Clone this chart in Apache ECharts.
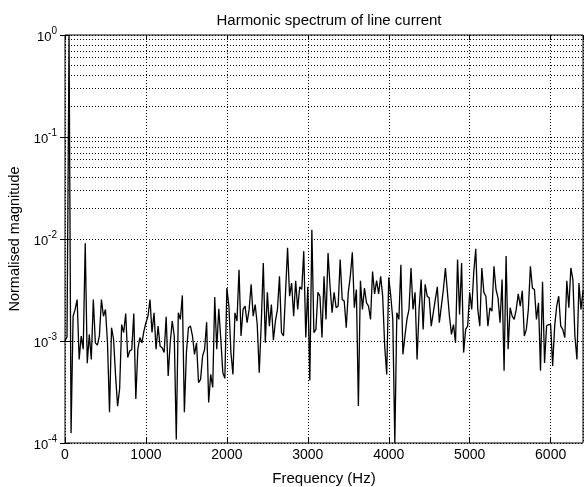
<!DOCTYPE html>
<html>
<head>
<meta charset="utf-8">
<style>
html, body { margin: 0; padding: 0; background: #fff; }
#spectrum { width: 587px; height: 487px; }
</style>
<script src="https://cdn.jsdelivr.net/npm/echarts@6/dist/echarts.min.js"></script>
</head>
<body>
<div id="spectrum"></div>
<script>
// spectrum sampled every 25 Hz, 0 .. 6400 Hz
const FREQ_STEP = 25
const mag0to1000 = [1.0e-3, 1.1e-3, 1.0, 1.25e-4, 1.75e-3, 2.04e-3, 2.55e-3, 6.6e-4, 1.12e-3, 8.3e-4,
  9.1e-3, 6.05e-4, 1.16e-3, 6.6e-4, 2.55e-3, 9.6e-4, 9.1e-4, 1.12e-3, 2.55e-3, 1.75e-3,
  2.04e-3, 9.6e-4, 2.0e-4, 1.35e-3, 1.04e-3, 4.55e-4, 2.3e-4, 3.4e-4, 1.45e-3, 1.21e-3,
  1.86e-3, 6.9e-4, 8.0e-4, 8.2e-4, 1.86e-3, 2.7e-4, 8.3e-4, 1.08e-3, 9.6e-4, 1.25e-3,
  1.51e-3]
const mag1025to2000 = [1.75e-3, 2.55e-3, 1.21e-3, 1.89e-3, 8.3e-4, 1.40e-3, 8.9e-4, 8.6e-4, 7.7e-4, 1.73e-3,
  4.55e-4, 9.6e-4, 1.57e-3, 1.12e-3, 1.08e-4, 1.89e-3, 1.63e-3, 2.8e-3, 2.0e-4, 7.7e-4,
  1.35e-3, 1.40e-3, 1.12e-3, 7.4e-4, 9.6e-4, 3.9e-4, 4.2e-4, 7.1e-4, 8.3e-4, 1.53e-3,
  2.5e-4, 4.7e-4, 3.5e-4, 2.7e-3, 8.3e-4, 2.07e-3, 1.04e-3, 4.9e-4, 4.3e-4, 3.3e-3]
const mag2025to3000 = [2.2e-3, 7.7e-4, 4.7e-4, 1.89e-3, 1.57e-3, 5.0e-3, 1.12e-3, 2.04e-3, 2.2e-3, 1.51e-3,
  2.04e-3, 3.6e-3, 1.75e-3, 2.28e-3, 1.45e-3, 4.9e-4, 1.51e-3, 5.8e-3, 9.6e-4, 3.0e-3,
  1.40e-3, 2.28e-3, 1.02e-3, 1.57e-3, 2.04e-3, 4.3e-3, 1.21e-3, 1.12e-3, 3.0e-3, 8.2e-3,
  2.75e-3, 3.7e-3, 1.75e-3, 3.9e-3, 2.04e-3, 3.4e-3, 3.2e-3, 7.6e-3, 1.08e-3, 3.4e-3]
const mag3025to4000 = [4.1e-4, 1.23e-2, 1.21e-3, 1.30e-3, 3.0e-3, 2.75e-3, 1.08e-3, 4.3e-3, 1.63e-3, 7.3e-3,
  3.4e-3, 1.89e-3, 3.0e-3, 2.12e-3, 2.2e-3, 6.3e-3, 2.55e-3, 2.46e-3, 1.35e-3, 3.0e-3,
  4.3e-3, 7.4e-3, 2.12e-3, 3.2e-3, 2.3e-4, 3.9e-3, 2.04e-3, 3.3e-3, 2.37e-3, 2.2e-3,
  1.63e-3, 4.8e-3, 2.9e-3, 3.9e-3, 2.9e-3, 4.3e-3, 2.75e-3, 8.9e-4, 4.7e-4, 4.2e-3]
const mag4025to5000 = [2.75e-3, 1.63e-3, 1.0e-4, 1.89e-3, 1.63e-3, 5.6e-3, 7.4e-4, 1.12e-3, 1.63e-3, 2.04e-3,
  5.2e-3, 2.04e-3, 3.0e-3, 6.6e-4, 2.04e-3, 4.0e-3, 1.30e-3, 3.6e-3, 2.75e-3, 2.65e-3,
  1.40e-3, 1.89e-3, 2.55e-3, 3.4e-3, 1.51e-3, 2.2e-3, 3.2e-3, 5.2e-3, 3.0e-3, 1.75e-3,
  1.16e-3, 1.45e-3, 9.6e-4, 6.3e-3, 1.82e-3, 5.8e-3, 7.7e-4, 1.30e-3, 1.40e-3, 3.0e-3]
const mag5025to6400 = [2.04e-3, 4.7e-3, 8.0e-3, 2.04e-3, 1.40e-3, 5.2e-3, 3.0e-3, 2.75e-3, 1.40e-3, 2.12e-3,
  1.96e-3, 5.4e-3, 3.2e-3, 2.65e-3, 1.51e-3, 4.0e-3, 5.1e-4, 6.8e-3, 8.3e-4, 2.12e-3,
  1.75e-3, 1.63e-3, 2.04e-3, 2.9e-3, 2.2e-3, 3.1e-3, 1.12e-3, 1.30e-3, 2.04e-3, 5.4e-3,
  3.3e-3, 3.2e-3, 1.63e-3, 2.37e-3, 5.1e-4, 3.8e-3, 6.1e-4, 1.40e-3, 1.45e-3, 1.45e-3,
  5.7e-4, 1.40e-3, 2.2e-3, 2.75e-3, 1.40e-3, 1.30e-3, 1.08e-3, 3.9e-3, 2.12e-3, 5.2e-3,
  4.0e-3, 1.12e-3, 6.6e-4, 3.7e-3, 2.04e-3, 3.1e-3]

const decades = [1e-4, 1e-3, 1e-2, 1e-1]
const minorSteps = [2, 3, 4, 5, 6, 7, 8, 9]

const magnitudes = [].concat(mag0to1000, mag1025to2000, mag2025to3000, mag3025to4000, mag4025to5000, mag5025to6400)
const points = magnitudes.map((v, i) => [i * FREQ_STEP, v])

// dotted lines at 2..9 of every decade, like the reference's log grid
const minorLines = []
for (const d of decades) {
  for (const m of minorSteps) {
    minorLines.push({ yAxis: d * m })
  }
}

const font = "'Liberation Sans', Arial, sans-serif"
const dotted = { color: '#000', width: 1, type: [1, 2] }

const myChart = echarts.init(document.getElementById('spectrum'))
myChart.setOption({
  animation: false,
  backgroundColor: '#fff',
  textStyle: { fontFamily: font },
  title: {
    text: 'Harmonic spectrum of line current',
    left: 324,
    textAlign: 'center',
    top: 8,
    textStyle: { fontSize: 15, fontWeight: 'normal', color: '#000', fontFamily: font }
  },
  grid: {
    left: 65,
    right: 4,
    top: 35,
    bottom: 44,
    show: true,
    borderColor: '#000',
    borderWidth: 1,
    outerBoundsMode: 'none'
  },
  xAxis: [
    {
      type: 'value',
      min: 0,
      max: 6400,
      interval: 1000,
      name: 'Frequency (Hz)',
      nameLocation: 'middle',
      nameGap: 28,
      nameTextStyle: { fontSize: 15, color: '#000', fontFamily: font },
      axisLine: { show: false },
      axisTick: { inside: true, length: 5, lineStyle: { color: '#000' } },
      axisLabel: {
        margin: 5,
        fontSize: 14,
        color: '#000',
        fontFamily: font,
        showMaxLabel: false,
        formatter: v => (v % 1000 === 0 ? String(v) : '')
      },
      splitLine: { show: true, lineStyle: dotted }
    },
    {
      type: 'value',
      position: 'top',
      min: 0,
      max: 6400,
      interval: 1000,
      axisLine: { show: false },
      axisTick: { inside: true, length: 5, lineStyle: { color: '#000' } },
      axisLabel: { show: false },
      splitLine: { show: false }
    }
  ],
  yAxis: [
    {
      type: 'log',
      logBase: 10,
      min: 1e-4,
      max: 1,
      name: 'Normalised magnitude',
      nameLocation: 'middle',
      nameGap: 32,
      nameRotate: 90,
      nameTextStyle: { fontSize: 14.5, color: '#000', fontFamily: font },
      axisLine: { show: false },
      axisTick: { inside: true, length: 5, lineStyle: { color: '#000' } },
      axisLabel: {
        margin: 8,
        color: '#000',
        formatter: v => '{b|10}{e|' + Math.round(Math.log10(v)) + '}',
        rich: {
          b: { fontSize: 13, color: '#000', fontFamily: font, verticalAlign: 'bottom' },
          e: { fontSize: 10, color: '#000', fontFamily: font, verticalAlign: 'bottom', padding: [0, 0, 8, 0] }
        }
      },
      splitLine: { show: true, lineStyle: dotted }
    },
    {
      type: 'log',
      logBase: 10,
      position: 'right',
      min: 1e-4,
      max: 1,
      axisLine: { show: false },
      axisTick: { inside: true, length: 5, lineStyle: { color: '#000' } },
      axisLabel: { show: false },
      splitLine: { show: false }
    }
  ],
  series: [
    {
      name: 'grid',
      type: 'line',
      z: 1,
      silent: true,
      data: [],
      markLine: {
        silent: true,
        symbol: 'none',
        label: { show: false },
        lineStyle: dotted,
        emphasis: { disabled: true },
        data: minorLines
      }
    },
    {
      name: 'spectrum',
      type: 'line',
      z: 3,
      data: points,
      showSymbol: false,
      symbol: 'none',
      clip: true,
      lineStyle: { color: '#000', width: 1.3 }
    }
  ]
})
</script>
</body>
</html>
